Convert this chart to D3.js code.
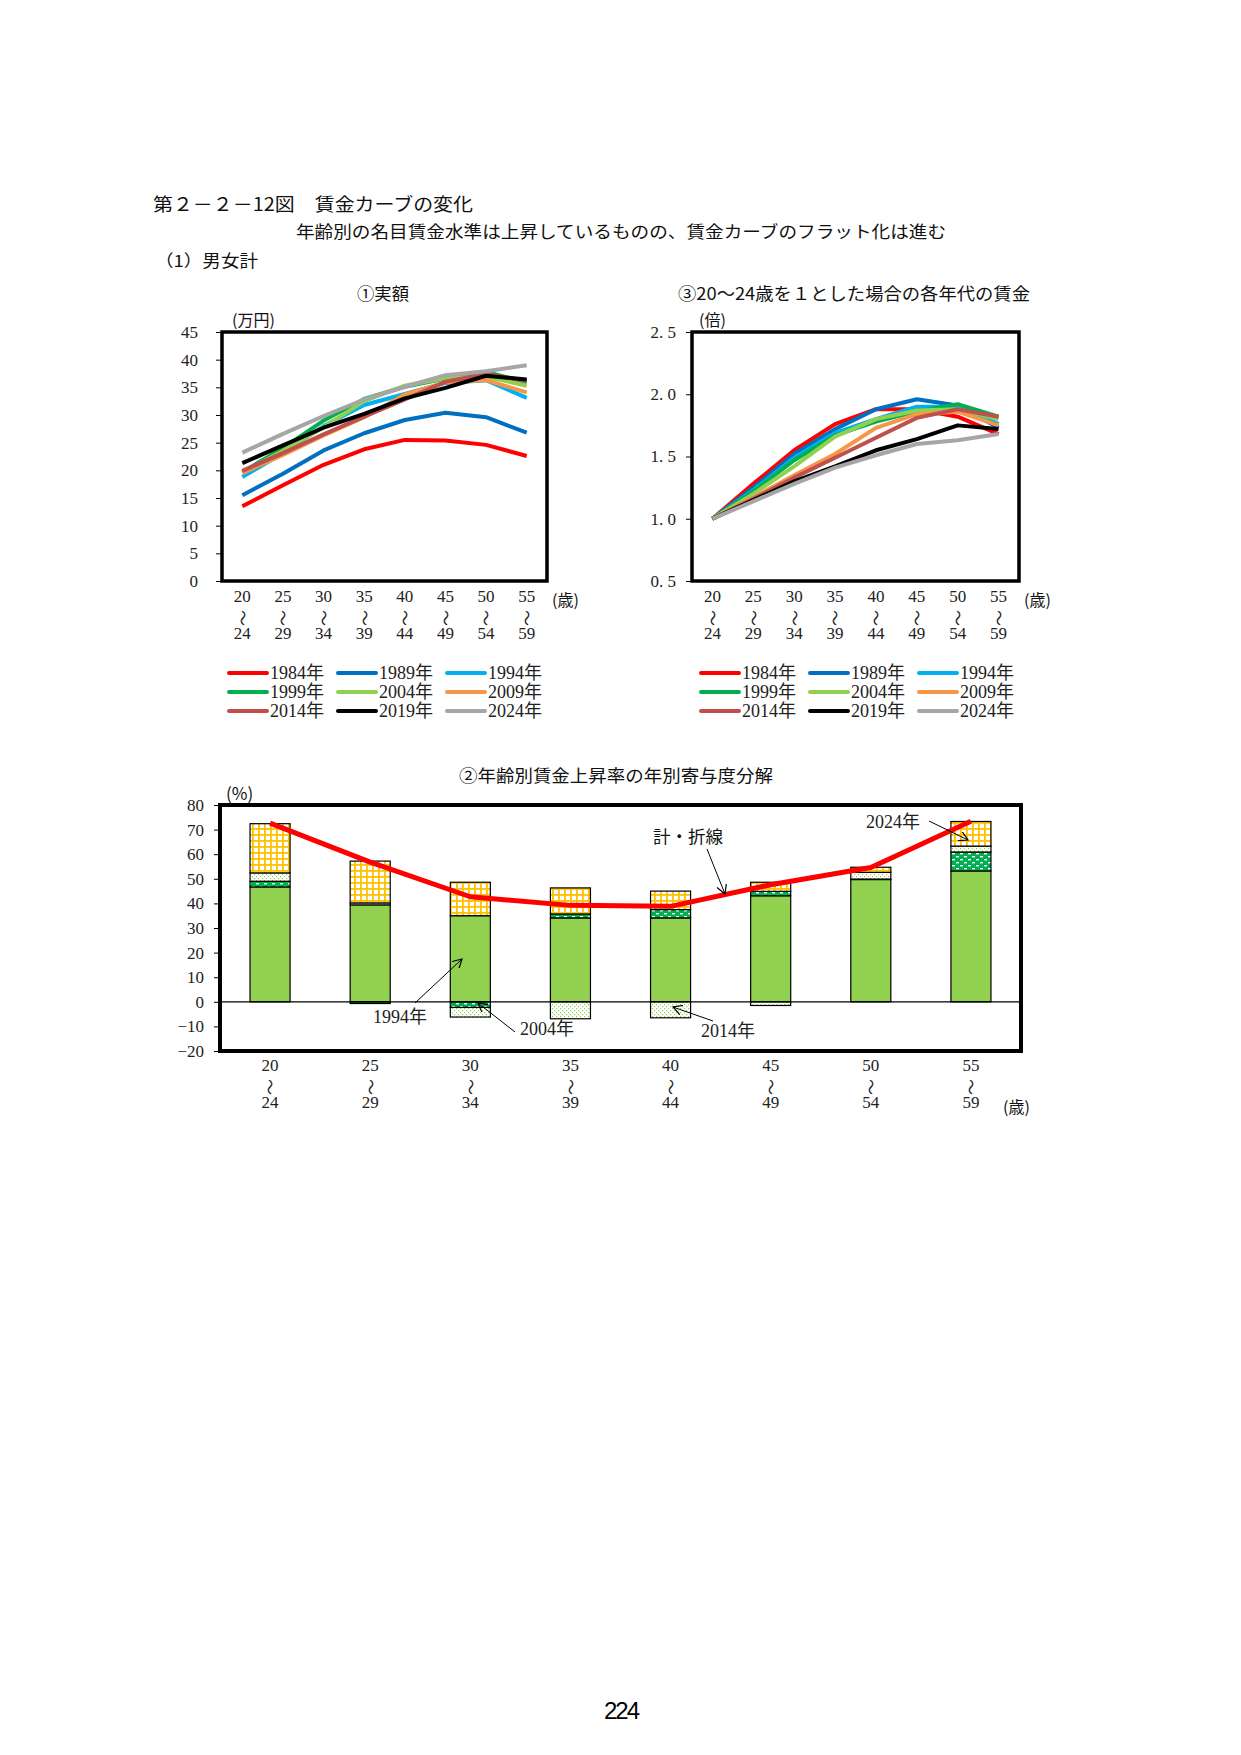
<!DOCTYPE html>
<html>
<head>
<meta charset="utf-8">
<script src="https://cdn.jsdelivr.net/npm/d3@7"></script>
<style>
  body { margin: 0; background: #fff; }
  svg { display: block; }
  .num { font-family: "Liberation Serif", "Noto Sans CJK JP", serif; fill: #222; }
  .jp { font-family: "Noto Sans CJK JP", sans-serif; fill: #111; }
</style>
</head>
<body>
<script>
// age groups (start / end of each band)
var ageFrom = ["20", "25", "30", "35", "40", "45", "50", "55"];
var ageTo = ["24", "29", "34", "39", "44", "49", "54", "59"];

var years = ["1984年", "1989年", "1994年", "1999年", "2004年", "2009年", "2014年", "2019年", "2024年"];
var yearColors = ["#ff0000", "#0070c0", "#00b0f0", "#00b050", "#92d050", "#f79646", "#c0504d", "#000000", "#a6a6a6"];

// ① 実額 (万円), one row per year
var amount = [
  [13.5, 17.3, 21.0, 23.8, 25.5, 25.4, 24.6, 22.6],
  [15.5, 19.4, 23.6, 26.7, 29.1, 30.4, 29.6, 26.8],
  [18.8, 23.1, 28.0, 31.8, 33.8, 35.8, 36.3, 33.1],
  [19.7, 24.0, 29.0, 32.9, 35.1, 36.6, 37.8, 35.9],
  [19.6, 23.5, 27.8, 32.5, 35.3, 36.7, 36.9, 35.3],
  [19.5, 22.8, 26.3, 29.6, 33.7, 35.9, 36.3, 34.1],
  [19.9, 23.1, 26.5, 29.7, 32.8, 36.0, 37.4, 36.2],
  [21.3, 24.5, 27.7, 30.2, 33.0, 34.9, 37.1, 36.4],
  [23.2, 26.6, 29.8, 32.8, 35.1, 37.2, 37.9, 39.0]
];

// ③ 20~24歳=1 (倍)
var ratio = [
  [1, 1.28, 1.55, 1.76, 1.88, 1.88, 1.82, 1.68],
  [1, 1.25, 1.52, 1.72, 1.88, 1.96, 1.91, 1.73],
  [1, 1.23, 1.49, 1.69, 1.80, 1.90, 1.90, 1.76],
  [1, 1.22, 1.47, 1.67, 1.78, 1.86, 1.92, 1.82],
  [1, 1.20, 1.42, 1.66, 1.80, 1.87, 1.88, 1.80],
  [1, 1.17, 1.35, 1.52, 1.73, 1.84, 1.86, 1.75],
  [1, 1.16, 1.33, 1.49, 1.65, 1.81, 1.88, 1.82],
  [1, 1.15, 1.30, 1.42, 1.55, 1.64, 1.75, 1.72],
  [1, 1.14, 1.28, 1.41, 1.51, 1.60, 1.63, 1.68]
];

// ② 寄与度 (%)
var contribKeys = ["1994", "2004", "2014", "2024"];
var contrib1994 = [46.7, 39.4, 35.0, 34.1, 34.1, 43.1, 49.7, 53.2];
var contrib2004 = [2.3, -0.7, -2.3, 1.6, 3.4, 1.8, 0.2, 7.7];
var contrib2014 = [3.4, 0.8, -3.9, -6.9, -6.5, -1.5, 2.7, 2.4];
var contrib2024 = [20.0, 17.0, 13.6, 10.6, 7.5, 3.7, 2.1, 10.0];
var contribTotal = [72.6, 56.8, 42.7, 39.2, 38.8, 47.6, 54.6, 73.4];

var svg = d3.select("body").append("svg")
    .attr("width", 1241)
    .attr("height", 1755);

// patterns for the stacked bars
var defs = svg.append("defs");
var p4 = defs.append("pattern").attr("id", "pat2004").attr("patternUnits", "userSpaceOnUse")
    .attr("width", 8).attr("height", 6);
p4.append("rect").attr("width", 8).attr("height", 6).attr("fill", "#00b050");
p4.append("rect").attr("x", 0).attr("y", 1).attr("width", 3).attr("height", 1.4).attr("fill", "#fff");
p4.append("rect").attr("x", 4).attr("y", 4).attr("width", 3).attr("height", 1.4).attr("fill", "#fff");

var p14 = defs.append("pattern").attr("id", "pat2014").attr("patternUnits", "userSpaceOnUse")
    .attr("width", 4).attr("height", 4);
p14.append("rect").attr("width", 4).attr("height", 4).attr("fill", "#fff");
p14.append("rect").attr("x", 0).attr("y", 0).attr("width", 1.2).attr("height", 1.2).attr("fill", "#92d050");
p14.append("rect").attr("x", 2).attr("y", 2).attr("width", 1.2).attr("height", 1.2).attr("fill", "#92d050");

var p24 = defs.append("pattern").attr("id", "pat2024").attr("patternUnits", "userSpaceOnUse")
    .attr("width", 6).attr("height", 6);
p24.append("rect").attr("width", 6).attr("height", 6).attr("fill", "#ffc000");
p24.append("rect").attr("x", 1.8).attr("y", 1.8).attr("width", 4.2).attr("height", 4.2).attr("fill", "#fff");

var contribFill = { "1994": "#92d050", "2004": "url(#pat2004)", "2014": "url(#pat2014)", "2024": "url(#pat2024)" };

// headings
svg.append("text").attr("class", "jp").attr("x", 153).attr("y", 211)
    .attr("font-size", 18).attr("textLength", 320).attr("lengthAdjust", "spacingAndGlyphs")
    .text("第２－２－12図　賃金カーブの変化");
svg.append("text").attr("class", "jp").attr("x", 296).attr("y", 238)
    .attr("font-size", 16.5).attr("textLength", 650).attr("lengthAdjust", "spacingAndGlyphs")
    .text("年齢別の名目賃金水準は上昇しているものの、賃金カーブのフラット化は進む");
svg.append("text").attr("class", "jp").attr("x", 155).attr("y", 267)
    .attr("font-size", 16.5).attr("textLength", 103).attr("lengthAdjust", "spacingAndGlyphs")
    .text("（1）男女計");

// x labels: "20 / 〜 / 24" stacked vertically
function ageLabels(g, x, top) {
  ageFrom.forEach(function(a, i) {
    var cx = x(a) + x.bandwidth() / 2;
    g.append("text").attr("class", "num").attr("x", cx).attr("y", top)
        .attr("text-anchor", "middle").attr("font-size", 17).text(a);
    g.append("text").attr("class", "num")
        .attr("transform", "translate(" + cx + "," + (top + 16) + ") rotate(90)")
        .attr("text-anchor", "middle").attr("dy", "0.35em").attr("font-size", 16).text("〜");
    g.append("text").attr("class", "num").attr("x", cx).attr("y", top + 37)
        .attr("text-anchor", "middle").attr("font-size", 17).text(ageTo[i]);
  });
}

function lineChart(opt) {
  var g = svg.append("g");
  var x = d3.scaleBand().domain(ageFrom).range([opt.left, opt.right]);
  var y = d3.scaleLinear().domain(opt.domain).range([opt.bottom, opt.top]);

  g.append("text").attr("class", "jp").attr("x", opt.titleX).attr("y", 300)
      .attr("text-anchor", "middle").attr("font-size", 17.5)
      .attr("textLength", opt.titleW).attr("lengthAdjust", "spacingAndGlyphs").text(opt.title);
  g.append("text").attr("class", "jp").attr("x", opt.unitX).attr("y", 326)
      .attr("font-size", 16).attr("fill", "#333").text(opt.unit);

  var axis = g.append("g").attr("transform", "translate(" + (opt.left - 1) + ",0)")
      .call(d3.axisLeft(y).tickValues(opt.ticks).tickSize(5).tickPadding(opt.pad).tickFormat(opt.fmt));
  axis.select(".domain").remove();
  axis.selectAll("text").attr("class", "num").attr("font-size", 17);
  axis.selectAll("line").attr("stroke", "#000");

  var line = d3.line()
      .x(function(d, i) { return x(ageFrom[i]) + x.bandwidth() / 2; })
      .y(function(d) { return y(d); });

  g.append("g").selectAll("path")
      .data(opt.data)
      .enter().append("path")
      .attr("d", line)
      .attr("fill", "none")
      .attr("stroke", function(d, i) { return yearColors[i]; })
      .attr("stroke-width", 4)
      .attr("stroke-linejoin", "round");

  g.append("rect")
      .attr("x", opt.left).attr("y", opt.top)
      .attr("width", opt.right - opt.left).attr("height", opt.bottom - opt.top)
      .attr("fill", "none").attr("stroke", "#000").attr("stroke-width", 3.5);

  ageLabels(g, x, 602);
  g.append("text").attr("class", "jp").attr("x", opt.right + 5).attr("y", 606)
      .attr("font-size", 16).attr("fill", "#333").text("(歳)");

  // legend 3 x 3
  var leg = g.append("g").selectAll("g")
      .data(years)
      .enter().append("g")
      .attr("transform", function(d, i) {
        return "translate(" + (opt.legX + (i % 3) * 109) + "," + (673 + Math.floor(i / 3) * 19) + ")";
      });
  leg.append("line").attr("x1", 0).attr("x2", 38)
      .attr("stroke", function(d, i) { return yearColors[i]; })
      .attr("stroke-width", 4).attr("stroke-linecap", "round");
  leg.append("text").attr("class", "num").attr("x", 41).attr("dy", "0.35em")
      .attr("font-size", 18).text(function(d) { return d; });
}

lineChart({
  left: 222, right: 547, top: 332, bottom: 581,
  domain: [0, 45], ticks: d3.range(0, 46, 5), fmt: d3.format("d"), pad: 18,
  data: amount, title: "①実額", titleX: 383, titleW: 52, unit: "(万円)", unitX: 232, legX: 229
});

lineChart({
  left: 692, right: 1019, top: 332, bottom: 581,
  domain: [0.5, 2.5], ticks: [0.5, 1.0, 1.5, 2.0, 2.5],
  fmt: function(d) { return d.toFixed(1).replace(".", ". "); }, pad: 10,
  data: ratio, title: "③20～24歳を１とした場合の各年代の賃金", titleX: 854, titleW: 352,
  unit: "(倍)", unitX: 699, legX: 701
});

// ② stacked contributions with total line
(function() {
  var left = 220, right = 1021, top = 805, bottom = 1051;
  var g = svg.append("g");
  var x = d3.scaleBand().domain(ageFrom).range([left, right]).paddingInner(0.6).paddingOuter(0.3);
  var y = d3.scaleLinear().domain([-20, 80]).range([bottom, top]);

  var rows = ageFrom.map(function(a, i) {
    return { age: a, "1994": contrib1994[i], "2004": contrib2004[i], "2014": contrib2014[i], "2024": contrib2024[i] };
  });
  var series = d3.stack().keys(contribKeys).offset(d3.stackOffsetDiverging)(rows);

  g.append("text").attr("class", "jp").attr("x", 616).attr("y", 782)
      .attr("text-anchor", "middle").attr("font-size", 17.5)
      .attr("textLength", 314).attr("lengthAdjust", "spacingAndGlyphs").text("②年齢別賃金上昇率の年別寄与度分解");
  g.append("text").attr("class", "jp").attr("x", 226).attr("y", 800)
      .attr("font-size", 17).attr("fill", "#333").text("(%)");

  var axis = g.append("g").attr("transform", "translate(" + (left - 1) + ",0)")
      .call(d3.axisLeft(y).ticks(10).tickSize(5).tickPadding(10).tickFormat(function(d) {
        return d < 0 ? "−" + Math.abs(d) : d;
      }));
  axis.select(".domain").remove();
  axis.selectAll("text").attr("class", "num").attr("font-size", 17);
  axis.selectAll("line").attr("stroke", "#000");

  g.append("g").selectAll("g")
      .data(series)
      .enter().append("g")
      .attr("fill", function(d) { return contribFill[d.key]; })
      .selectAll("rect")
      .data(function(d) { return d; })
      .enter().append("rect")
      .attr("x", function(d) { return x(d.data.age); })
      .attr("y", function(d) { return y(Math.max(d[0], d[1])); })
      .attr("width", x.bandwidth())
      .attr("height", function(d) { return Math.abs(y(d[0]) - y(d[1])); })
      .attr("stroke", "#000").attr("stroke-width", 1.2);

  g.append("line").attr("x1", left).attr("x2", right)
      .attr("y1", y(0)).attr("y2", y(0)).attr("stroke", "#000").attr("stroke-width", 1.2);

  var line = d3.line()
      .x(function(d, i) { return x(ageFrom[i]) + x.bandwidth() / 2; })
      .y(function(d) { return y(d); });
  g.append("path").attr("d", line(contribTotal))
      .attr("fill", "none").attr("stroke", "#ff0000").attr("stroke-width", 5)
      .attr("stroke-linejoin", "round");

  g.append("rect").attr("x", left).attr("y", top)
      .attr("width", right - left).attr("height", bottom - top)
      .attr("fill", "none").attr("stroke", "#000").attr("stroke-width", 4);

  ageLabels(g, x, 1071);
  g.append("text").attr("class", "jp").attr("x", 1003).attr("y", 1113)
      .attr("font-size", 16).attr("fill", "#333").text("(歳)");

  // annotations with arrows
  defs.append("marker").attr("id", "arr").attr("viewBox", "0 0 10 10")
      .attr("refX", 9).attr("refY", 5).attr("markerWidth", 10).attr("markerHeight", 10)
      .attr("markerUnits", "userSpaceOnUse").attr("orient", "auto")
      .append("path").attr("d", "M0,0 L9,5 L0,10").attr("fill", "none").attr("stroke", "#000").attr("stroke-width", 1.2);

  function note(label, tx, ty, x1, y1, x2, y2, cls, size) {
    g.append("text").attr("class", cls).attr("x", tx).attr("y", ty).attr("font-size", size)
        .attr("fill", "#333").text(label);
    g.append("line").attr("x1", x1).attr("y1", y1).attr("x2", x2).attr("y2", y2)
        .attr("stroke", "#000").attr("stroke-width", 1).attr("marker-end", "url(#arr)");
  }
  note("1994年", 373, 1023, 415, 1003, 462, 959, "num", 18);
  note("2004年", 520, 1035, 515, 1032, 478, 1003, "num", 18);
  note("2014年", 701, 1037, 713, 1021, 673, 1007, "num", 18);
  note("2024年", 866, 828, 929, 821, 968, 840, "num", 18);
  note("計・折線", 653, 843, 707, 849, 725, 894, "jp", 17.5);
})();

// page number
svg.append("text").attr("x", 621).attr("y", 1719).attr("text-anchor", "middle")
    .attr("font-family", "Liberation Sans, Arial, sans-serif").attr("font-size", 24)
    .attr("letter-spacing", -2).attr("fill", "#000").text("224");
</script>
</body>
</html>
